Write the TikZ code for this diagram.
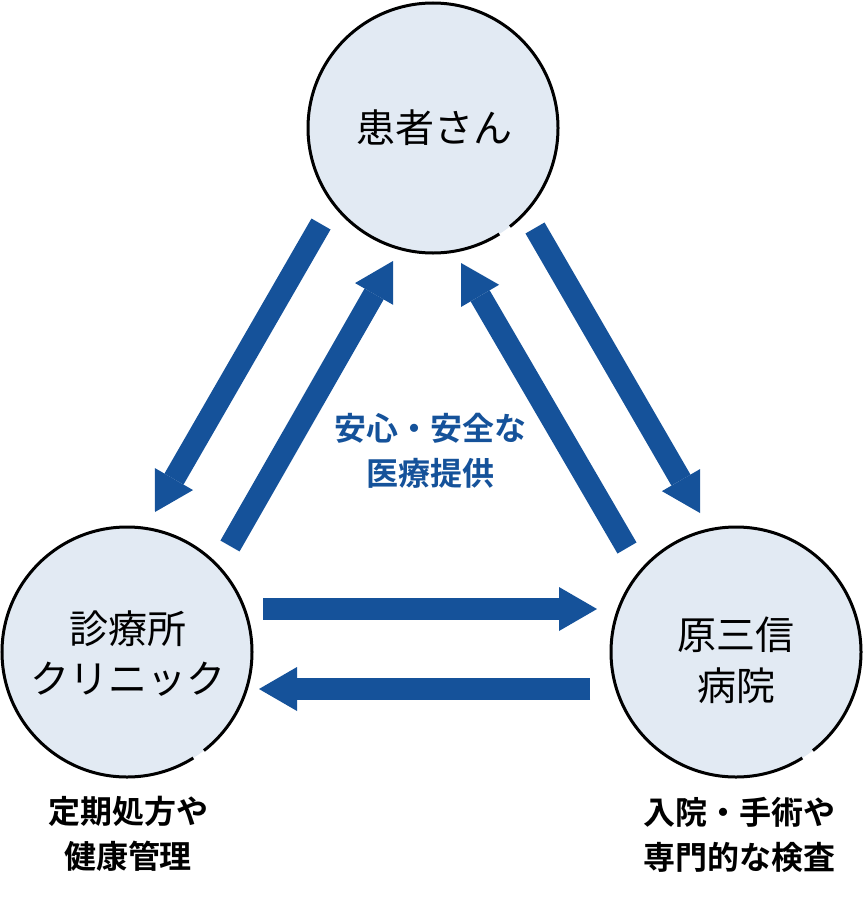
\documentclass[tikz,border=0pt]{standalone}
\usepackage{fontspec}
\setmainfont{Noto Sans CJK JP}[BoldFont={Noto Sans CJK JP Bold}]
\usetikzlibrary{arrows.meta}
\definecolor{arrowblue}{HTML}{15529A}
\definecolor{circfill}{HTML}{E2EAF3}
\begin{document}
\begin{tikzpicture}[x=1pt,y=-1pt,
  party/.style={circle, minimum size=250pt, inner sep=0pt, fill=circfill, draw=black, line width=3pt,
    dash pattern=on 659pt off 13pt on 150pt off 1pt},
  partyname/.style={font=\fontsize{39}{50}\selectfont, align=center, text=black, inner sep=0pt},
  note/.style={font=\bfseries\fontsize{32}{45}\selectfont, align=center, inner sep=0pt},
  flow/.style={draw=arrowblue, line width=22pt, -{Triangle[length=38pt,width=44pt,line width=0pt]}}]
\useasboundingbox (0,0) rectangle (864,902);
% circles
\node[party] (patient) at (433,128) {};
\node[party] (clinic) at (127,652) {};
\node[party] (hospital) at (736,652) {};
% circle texts
\node[partyname] (patientname) at (434,128) {患者さん};
\node[partyname] (clinicname) at (128,654) {診療所\\クリニック};
\node[partyname, font=\fontsize{39}{51}\selectfont] (hospitalname) at (736,660) {原三信\\病院};
% arrow end points
\coordinate (a1s) at (321,224); \coordinate (a1e) at (155,512);
\coordinate (a2s) at (230,546); \coordinate (a2e) at (393,261);
\coordinate (a3s) at (627,548); \coordinate (a3e) at (461,263);
\coordinate (a4s) at (535,228); \coordinate (a4e) at (700,513);
\coordinate (a5s) at (263,609); \coordinate (a5e) at (597,609);
\coordinate (a6s) at (590,689); \coordinate (a6e) at (259,689);
\draw[flow] (a1s) -- (a1e);
\draw[flow] (a2s) -- (a2e);
\draw[flow] (a3s) -- (a3e);
\draw[flow] (a4s) -- (a4e);
\draw[flow] (a5s) -- (a5e);
\draw[flow] (a6s) -- (a6e);
% labels
\node[note, text=arrowblue] (center) at (430,451) {安心・安全な\\医療提供};
\node[note, text=black] (clinicnote) at (128,834) {定期処方や\\健康管理};
\node[note, text=black] (hospitalnote) at (739,835) {入院・手術や\\専門的な検査};
\end{tikzpicture}
\end{document}
